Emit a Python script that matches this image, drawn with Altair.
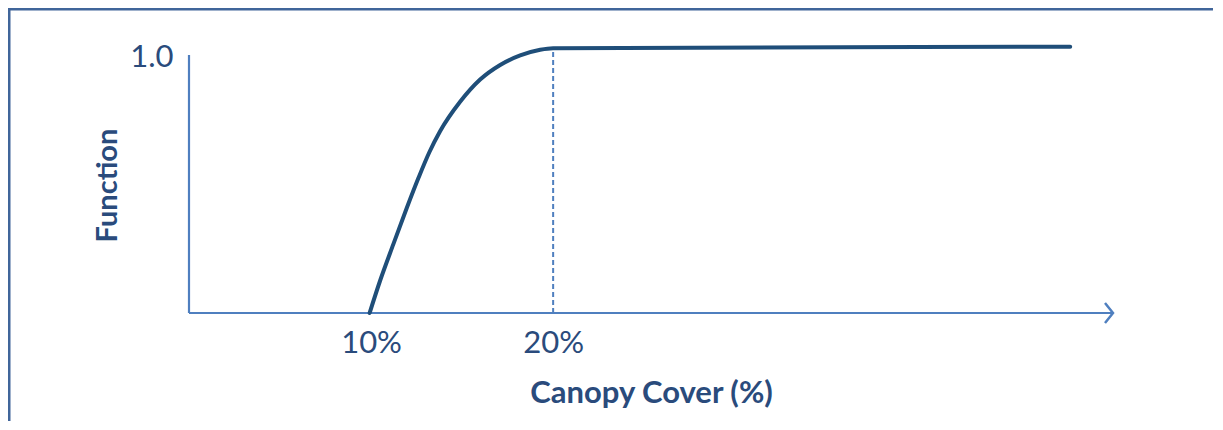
import altair as alt
import pandas as pd

# ---- data ----
curve_x = [9.92, 10.49, 11.23, 11.96, 12.6, 13.2, 13.79, 14.89, 15.99, 17.09, 18.19, 19.29, 20, 48.4]
curve_y = [0, 0.125, 0.27, 0.41, 0.527, 0.628, 0.71, 0.825, 0.912, 0.969, 1.006, 1.028, 1.034, 1.04]
x_ticks = [10, 20]
y_ticks = [1.0]
x_domain = [0, 50.75]
y_domain = [0, 1]
threshold_x = [20]
threshold_y = [1.034]
x_axis_end = [50.75]
y_axis_top = [1.008]

FONT = "Lato"
CURVE = "#1f4e79"
AXIS = "#4f7fbf"
TEXT = "#2a4b7c"
FRAME = "#40659a"

curve_df = pd.DataFrame({"cover": curve_x, "func": curve_y})
xline_df = pd.DataFrame({"cover": [0], "x2": x_axis_end, "func": [0]})
yline_df = pd.DataFrame({"cover": [0], "func": [0], "y2": y_axis_top})
arrow_df = pd.DataFrame({"cover": x_axis_end, "func": [0]})
dash_df = pd.DataFrame({"cover": threshold_x, "func": [0], "y2": threshold_y})

xs = alt.Scale(domain=x_domain, nice=False, zero=False)
ys = alt.Scale(domain=y_domain, nice=False, zero=False)

X_AX = alt.Axis(
    values=x_ticks, labelExpr="datum.value + '%'", domain=False, ticks=False,
    grid=False, labelFontSize=31, labelColor=TEXT, labelFont=FONT,
    labelPadding=15, title="Canopy Cover (%)", titleFontSize=31,
    titleFontWeight="bold", titleColor=TEXT, titleFont=FONT, titlePadding=20)
Y_AX = alt.Axis(
    values=y_ticks, format=".1f", domain=False, ticks=False, grid=False,
    labelFontSize=31, labelColor=TEXT, labelFont=FONT, labelPadding=16,
    title="Function", titleFontSize=29, titleFontWeight="bold",
    titleColor=TEXT, titleFont=FONT, titlePadding=7)


def xenc():
    return alt.X("cover:Q", scale=xs, axis=X_AX, title="Canopy Cover (%)")


def yenc():
    return alt.Y("func:Q", scale=ys, axis=Y_AX, title="Function")


curve = alt.Chart(curve_df).mark_line(
    color=CURVE, strokeWidth=4, interpolate="monotone", strokeCap="round"
).encode(x=xenc(), y=yenc())

xline = alt.Chart(xline_df).mark_rule(color=AXIS, strokeWidth=2.2).encode(
    x=xenc(), x2="x2:Q", y=yenc())
yline = alt.Chart(yline_df).mark_rule(color=AXIS, strokeWidth=2.2).encode(
    x=xenc(), y=yenc(), y2="y2:Q")
arrow = alt.Chart(arrow_df).mark_point(
    shape="M-0.8,-1L0,0L-0.8,1", filled=False, color=AXIS, strokeWidth=2.5,
    size=400, opacity=1).encode(x=xenc(), y=yenc())
dash = alt.Chart(dash_df).mark_rule(color=AXIS, strokeWidth=2, strokeDash=[5, 3]).encode(
    x=xenc(), y=yenc(), y2="y2:Q")

# decorative frame (top and left edges of the slide box)
frame_top = alt.Chart(pd.DataFrame({"a": [0]})).mark_rule(color=FRAME, strokeWidth=3).encode(
    x=alt.value(-180), x2=alt.value(1030), y=alt.value(-48))
frame_left = alt.Chart(pd.DataFrame({"a": [0]})).mark_rule(color=FRAME, strokeWidth=3).encode(
    x=alt.value(-180), y=alt.value(-49), y2=alt.value(370))

chart = alt.layer(frame_top, frame_left, dash, xline, yline, arrow, curve).properties(
    width=924, height=256, autosize="none",
    padding={"left": 181, "top": 49, "right": 100, "bottom": 108},
).configure_view(stroke=None)

chart.save("out.html", embed_options={"renderer": "svg", "actions": False})
